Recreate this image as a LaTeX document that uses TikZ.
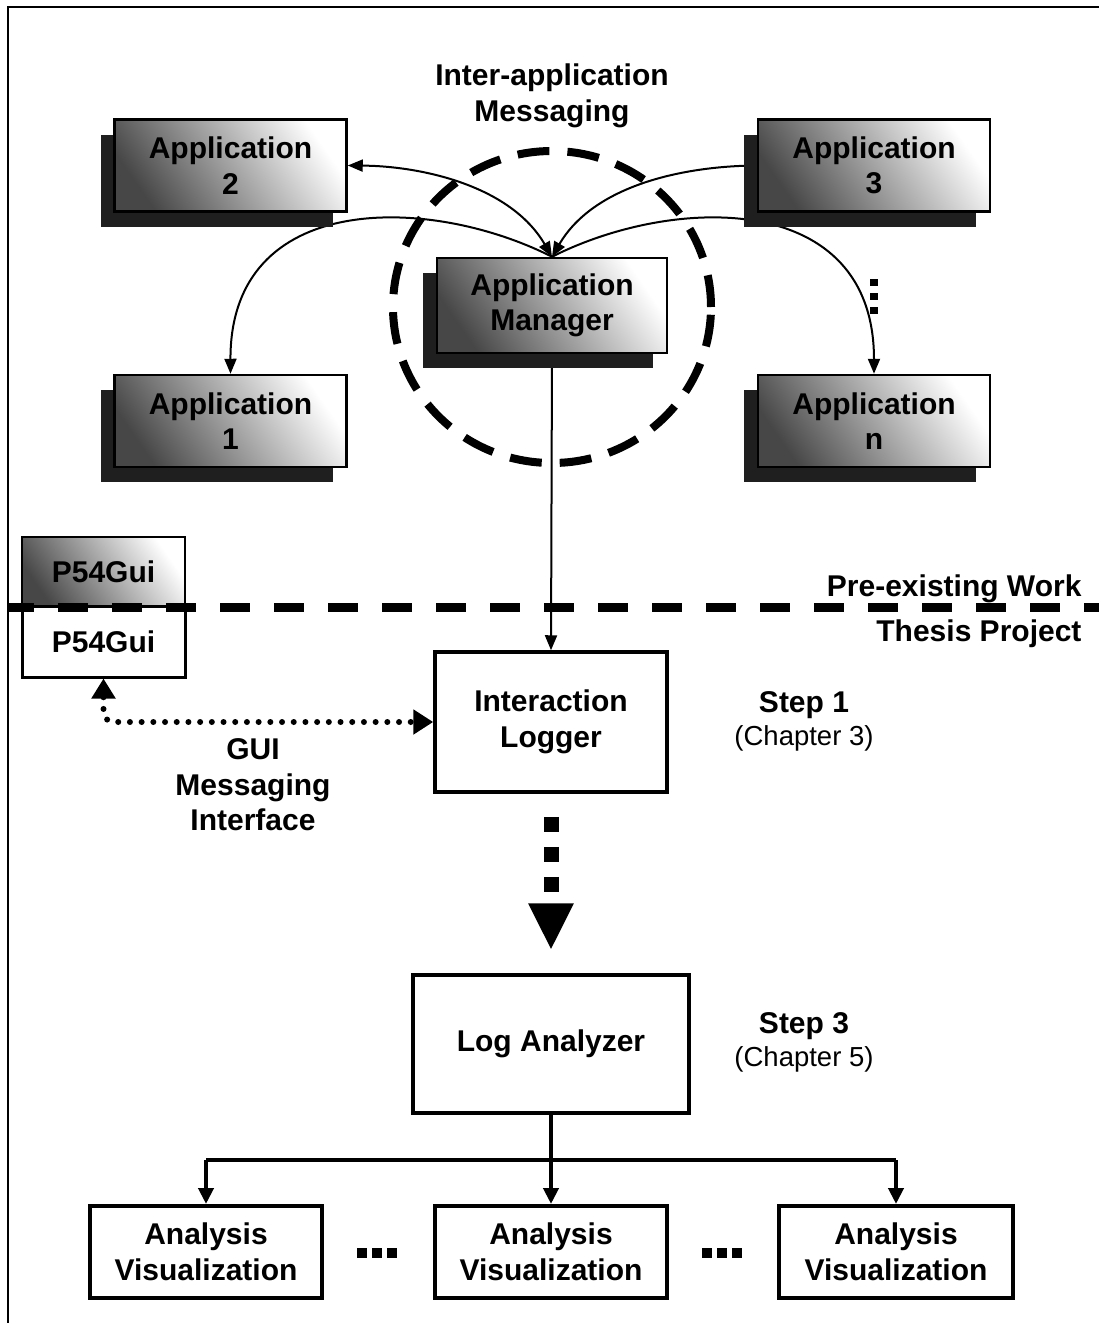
\documentclass[tikz,border=0pt]{standalone}
\usepackage{fontspec}
\setmainfont{Liberation Sans}
\usetikzlibrary{arrows.meta,shadows,shapes.geometric,backgrounds}

\begin{document}
\begin{tikzpicture}[x=1pt,y=-1pt,
  lbl/.style={font=\fontsize{30}{35.5}\selectfont\bfseries, align=center},
  note/.style={font=\fontsize{27.5}{33}\selectfont, align=center},
  shaded/.style={left color=black!72, right color=white, shading angle=125},
  appbox/.style={lbl, shaded, draw=black, line width=2.5pt, minimum width=232pt,
    minimum height=92pt, inner sep=0pt,
    drop shadow={shadow xshift=-14pt, shadow yshift=-15pt, fill=black!88, opacity=1}},
  plainbox/.style={lbl, draw=black, line width=3.5pt, fill=white, inner sep=0pt},
  link/.style={line width=2pt, -{Triangle[length=15pt,width=12pt]}},
  tree/.style={line width=4pt},
  treearrow/.style={tree, -{Triangle[length=16pt,width=15pt]}},
  guidots/.style={line width=6pt, line cap=round, dash pattern=on 0pt off 11.7pt,
    rounded corners=10pt,
    {Triangle[length=20pt,width=23pt]}-{Triangle[length=20pt,width=24pt]}},
  bigdots/.style={line width=15pt,
    dash pattern=on 0pt off 23pt on 15pt off 15pt on 15pt off 15pt on 15pt off 300pt,
    -{Triangle[length=47pt,width=42pt]}, shorten >=23pt},
  sepline/.style={line width=9pt, dash pattern=on 30pt off 24pt, dash phase=4pt},
  ring/.style={draw, ellipse, line width=8pt, dash pattern=on 32pt off 18pt, inner sep=0pt},
  ellipsis/.style={line width=10pt, dash pattern=on 10pt off 5pt}
]
\useasboundingbox (0,0) rectangle (1099,1323);

% frame
\draw[line width=2.5pt] (8,1323) -- (8,7) -- (1099,7);

% applications around the manager
\node[appbox] (app2) at (230.5,165.5) {Application\\2};
\node[appbox] (app3) at (874,165.5) {Application\\3};
\node[appbox, minimum width=230pt, minimum height=95pt] (am) at (552,305.5) {Application\\Manager};
\node[appbox] (app1) at (230.5,421) {Application\\1};
\node[appbox] (appn) at (874,421) {Application\\n};

% messaging ring and title
\node[ring, minimum width=318pt, minimum height=312pt] (msg) at (552,307) {};
\node[lbl] (title) at (552,96) {Inter-application\\Messaging};

% more applications
\draw[line width=8pt, dash pattern=on 7pt off 7pt] (874,279) -- (874,318);

% divider between existing work and thesis project
\coordinate (sepL) at (8,607);
\coordinate (sepR) at (1099,607);
\node[lbl, anchor=east] (pre) at (1085,589) {Pre-existing Work};
\node[lbl, anchor=east] (thesis) at (1085,634) {Thesis Project};

% GUI
\node[lbl, shaded, draw=black, line width=2pt, minimum width=163pt, minimum height=69pt, inner sep=0pt] (p54a) at (103.5,571.5) {P54Gui};
\node[plainbox, line width=3pt, minimum width=163pt, minimum height=71pt] (p54b) at (103.5,641.5) {P54Gui};
\draw[sepline] (sepL) -- (sepR);

% logger and analyzer
\node[plainbox, minimum width=232pt, minimum height=140pt] (logger) at (551,722) {Interaction\\Logger};
\node[plainbox, minimum width=276pt, minimum height=138pt] (la) at (551,1044) {Log Analyzer};

\node[lbl] (step1) at (804,705) {Step 1};
\node[note] (ch3) at (804,738) {(Chapter 3)};
\node[lbl] (step3) at (804,1026) {Step 3};
\node[note] (ch5) at (804,1059) {(Chapter 5)};
\node[lbl] (gui) at (253,785) {GUI\\Messaging\\Interface};

% analysis visualizations
\node[plainbox, line width=4pt, minimum width=232pt, minimum height=92pt] (av1) at (206,1252) {Analysis\\Visualization};
\node[plainbox, line width=4pt, minimum width=232pt, minimum height=92pt] (av2) at (551,1252) {Analysis\\Visualization};
\node[plainbox, line width=4pt, minimum width=234pt, minimum height=92pt] (av3) at (896,1252) {Analysis\\Visualization};
\draw[ellipsis] (357,1253) -- (397,1253);
\draw[ellipsis] (702,1253) -- (742,1253);

% connectors
\begin{scope}[on background layer]
  \draw[link, {Triangle[length=15pt,width=12pt]}-{Triangle[length=15pt,width=12pt]}]
    (am.north) .. controls (510,185) and (420,166) .. (app2.east);
  \draw[link] (app3.west) .. controls (684,166) and (594,185) .. (am.north);
  \draw[link] (am.north) .. controls (430,195) and (230,190) .. (app1.north);
  \draw[link] (am.north) .. controls (674,195) and (874,190) .. (appn.north);
  \draw[link] (am.south) -- (logger.north);
\end{scope}

\draw[guidots] (p54b.south) |- (logger.west);
\draw[bigdots] (logger.south) -- (la.north);

\coordinate (split) at (551,1160);
\draw[tree] (la.south) -- (split);
\draw[tree] (av1.north |- split) -- (av3.north |- split);
\draw[treearrow] (av1.north |- split) -- (av1.north);
\draw[treearrow] (split) -- (av2.north);
\draw[treearrow] (av3.north |- split) -- (av3.north);
\end{tikzpicture}
\end{document}
